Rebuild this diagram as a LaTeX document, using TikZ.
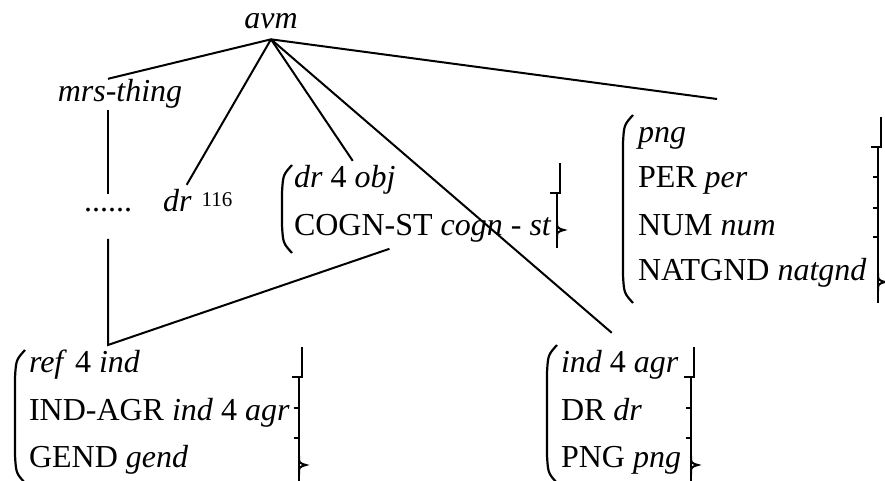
\documentclass[tikz,border=0pt]{standalone}
\usepackage{fontspec}
\setmainfont{Liberation Serif}
\usetikzlibrary{positioning}

% left paren of an avm: x, top, bottom
\newcommand{\avmopen}[3]{%
  \draw[line width=1.1pt] (#1+10,#2) .. controls (#1+1,#2+10) .. (#1,#2+28)
    -- (#1,#3-28) .. controls (#1+1,#3-10) .. (#1+10,#3);}
% right bracket of an avm: x, top, hook, bottom, tip, ticks
\newcommand{\avmclose}[6]{%
  \draw (#1+3,#2) -- (#1+3,#3) -- (#1-7,#3);
  \draw[line width=1.2pt] (#1,#3) -- (#1,#4);
  \draw (#1,#5-9) .. controls (#1,#5-2) .. (#1+7,#5) .. controls (#1,#5+2) .. (#1,#5+9);
  \foreach \ty in {#6} {\draw (#1,\ty) -- (#1-5,\ty);}}

\begin{document}
\begin{tikzpicture}[x=0.5pt,y=-0.5pt,line width=1pt,
        rownode/.style={anchor=base west, inner sep=2pt},
        typenode/.style={anchor=base, inner sep=1pt}]
        \tikzstyle{every node}=[font=\fontsize{16}{19}\selectfont]
        \useasboundingbox (0,0) rectangle (885,481);
            \node[typenode, inner sep=0pt, outer sep=5pt] (avm) at (271,29) {\textit{avm}};
            \node[typenode, inner sep=0pt] (mrs) at (120,102) {\textit{mrs-thing}};
            \node[typenode, inner sep=0pt, text height=8.5pt, text depth=13pt] (dots) at (108,212) {......};
            \node[rownode] (dr) at (158,212) {\textit{dr}};
            \node[anchor=base west, inner sep=0pt, font=\fontsize{10.5}{12}\selectfont] (drnum) at ([xshift=2pt,yshift=2.5pt]dr.base east) {116};

            \node[rownode] (cogn1) at (289,188) {\textit{dr} 4 \textit{obj}};
            \node[rownode] (cogn2) at (289,235) {COGN-ST \textit{cogn} - \textit{st}};
            \node[rownode] (png1) at (633,143) {\textit{png}};
            \node[rownode] (png2) at (633,188) {PER \textit{per}};
            \node[rownode] (png3) at (633,235) {NUM \textit{num}};
            \node[rownode] (png4) at (633,280) {NATGND \textit{natgnd}};
            \node[rownode] (ref1) at (24,372) {\textit{ref} 4 \textit{ind}};
            \node[rownode] (ref2) at (24,420) {IND-AGR \textit{ind} 4 \textit{agr}};
            \node[rownode] (ref3) at (24,467) {GEND \textit{gend}};
            \node[rownode] (ind1) at (556,372) {\textit{ind} 4 \textit{agr}};
            \node[rownode] (ind2) at (556,420) {DR \textit{dr}};
            \node[rownode] (ind3) at (556,467) {PNG \textit{png}};

            \avmopen{282}{165}{253}
            \avmclose{557}{163}{193}{248}{230}{193}
            \avmopen{623}{115}{303}
            \avmclose{878}{117}{147}{303}{282}{177,208,237}
            \avmopen{15}{350}{483}
            \avmclose{299}{347}{377}{483}{465}{408,438}
            \avmopen{547}{345}{483}
            \avmclose{691}{347}{377}{483}{465}{408,438}

            \coordinate (pngtop) at (717,99);
            \coordinate (join) at (108,345);
            \path (cogn2.south -| cogn1.east) ++(-11,2) coordinate (cognfoot);
            \draw (avm.south) -- (mrs.north -| dots.north);
            \draw (avm.south) -- (dr);
            \draw (avm.south) -- ([xshift=4pt]cogn1.north);
            \draw (avm.south) -- ([shift={(-4pt,6pt)}]ind1.north);
            \draw (avm.south) -- (pngtop);
            \draw (mrs.south -| dots.north) -- (dots.north);
            \draw (dots.south) -- (join) -- (cognfoot);
        \end{tikzpicture}
\end{document}
